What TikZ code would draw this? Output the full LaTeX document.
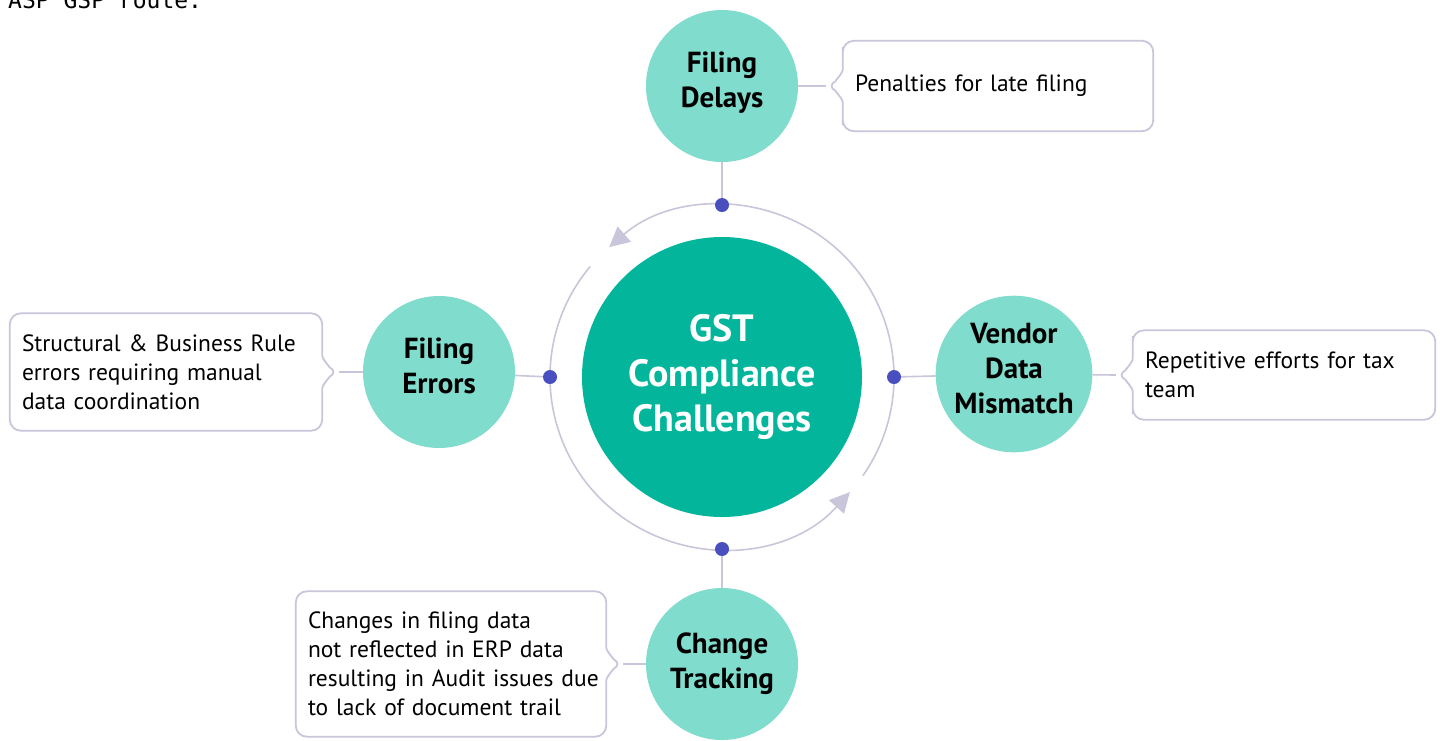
\documentclass[tikz,border=0pt]{standalone}
\usepackage{fontspec}
\setmainfont{PT Sans}
\setmonofont{DejaVu Sans Mono}
\usetikzlibrary{arrows.meta,calc,positioning}

\definecolor{hubgreen}{HTML}{02B59B}
\definecolor{petal}{HTML}{80DCCC}
\definecolor{ringgray}{HTML}{C9C5DA}
\definecolor{dotblue}{HTML}{4A4FBF}

\tikzset{
  hubnode/.style={circle, fill=hubgreen, minimum size=280pt, text=white,
    font=\bfseries\fontsize{38}{45}\selectfont, align=center,
    execute at begin node={\rule{0pt}{36pt}}},
  petalnode/.style={circle, fill=petal, minimum size=152pt, inner sep=0pt,
    font=\bfseries\fontsize{29}{35}\selectfont, align=center},
  lift/.style={execute at end node={\rule[-12pt]{0pt}{12pt}}},
  notetext/.style={font=\fontsize{23.5}{29}\selectfont, align=left,
    inner xsep=12pt, inner ysep=0pt},
  bubble/.style={draw=ringgray, line width=1.8pt, rounded corners=11pt},
  ring/.style={draw=ringgray, line width=1.6pt},
  link/.style={draw=ringgray, line width=1.6pt},
  joint/.style={circle, fill=dotblue, minimum size=14pt, inner sep=0pt},
}

% outline of a note with its pointer on the left / right side
\newcommand{\bubbleleft}[1]{%
  \draw[bubble] (#1.north) -- (#1.north east) -- (#1.south east) -- (#1.south west)
    -- ($(#1.west)+(0,28)$) .. controls +(0,-16) and +(8,4) .. ($(#1.west)+(-17,0)$) coordinate (#1-tip)
    .. controls +(8,-4) and +(0,16) .. ($(#1.west)+(0,-28)$) -- (#1.north west) -- cycle;}
\newcommand{\bubbleright}[1]{%
  \draw[bubble] (#1.south) -- (#1.south west) -- (#1.north west) -- (#1.north east)
    -- ($(#1.east)+(0,-28)$) .. controls +(0,16) and +(-8,-4) .. ($(#1.east)+(17,0)$) coordinate (#1-tip)
    .. controls +(-8,4) and +(0,-16) .. ($(#1.east)+(0,28)$) -- (#1.south east) -- cycle;}

\begin{document}
\begin{tikzpicture}[x=1pt, y=-1pt]
  \useasboundingbox (0,0) rectangle (1440,740);
  \clip (0,0) rectangle (1440,740);

  \node[font=\ttfamily\fontsize{23}{23}\selectfont, anchor=base west, inner sep=0pt] (route) at (8,8) {ASP GSP route.};

  % ring with two arrows
  \coordinate (c) at (722,377);
  \draw[ring, -{Triangle[length=20pt, width=20pt, fill=ringgray]}] ($(c)+(35:172)$) arc[start angle=35, end angle=-131, radius=172];
  \draw[ring, -{Triangle[length=20pt, width=20pt, fill=ringgray]}] ($(c)+(-140:172)$) arc[start angle=-140, end angle=-318, radius=172];

  \node[hubnode] (hub) at (c) {GST\\Compliance\\Challenges};

  \node[joint] (dotT) at ($(c)+(0,-172)$) {};
  \node[joint] (dotL) at ($(c)+(-172,0)$) {};
  \node[joint] (dotR) at ($(c)+(172,0)$) {};
  \node[joint] (dotB) at ($(c)+(0,172)$) {};

  \node[petalnode, lift] (delays) at (722,86) {Filing\\Delays};
  \node[petalnode, lift] (errors) at (439,372) {Filing\\Errors};
  \node[petalnode, lift] (vendor) at (1014,374) {Vendor\\Data\\Mismatch};
  \node[petalnode] (tracking) at (722,664) {Change\\Tracking};

  \draw[link] (delays) -- (dotT);
  \draw[link] (errors) -- (dotL);
  \draw[link] (vendor) -- (dotR);
  \draw[link] (tracking) -- (dotB);

  % notes
  \node[notetext, text width=286pt, minimum height=90pt] (pen) at (998,86) {Penalties for late filing};
  \node[notetext, text width=288pt, minimum height=117pt] (rule) at (166,372) {Structural \& Business Rule\\errors requiring manual\\data coordination};
  \node[notetext, text width=278pt, minimum height=89pt] (tax) at (1284,375) {Repetitive efforts for tax\\team};
  \node[notetext, text width=286pt, minimum height=145pt] (trail) at (451,664) {Changes in filing data\\not reflected in ERP data\\\mbox{resulting in Audit issues due}\\to lack of document trail};

  \bubbleleft{pen}
  \bubbleright{rule}
  \bubbleleft{tax}
  \bubbleright{trail}

  \draw[link] (delays) -- (pen-tip);
  \draw[link] (errors) -- (rule-tip);
  \draw[link] (vendor) -- (tax-tip);
  \draw[link] (tracking) -- (trail-tip);
\end{tikzpicture}
\end{document}
